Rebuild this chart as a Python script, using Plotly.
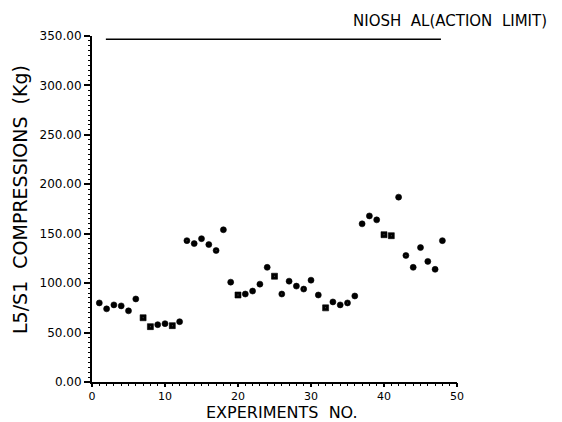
import plotly.graph_objects as go

experiments = list(range(1, 49))
compression_kg = [80, 74, 78, 77, 72, 84, 65, 56, 58, 59, 57, 61,
                  143, 140, 145, 139, 133, 154,
                  101, 88, 89, 92, 99, 116, 107, 89, 102, 97, 94, 103,
                  88, 75, 81, 78, 80, 87,
                  160, 168, 164, 149, 148, 187, 128, 116, 136, 122, 114, 143]
symbols = ["circle", "circle", "circle", "circle", "circle", "circle", "square-dot", "square-dot",
           "circle", "circle", "square-dot", "circle",
           "circle-dot", "circle", "circle", "circle", "circle-dot", "circle",
           "circle", "square-dot", "circle", "circle", "circle", "circle", "square-dot", "circle-dot",
           "circle", "circle", "circle-dot", "circle",
           "circle", "square-dot", "circle", "circle", "circle-dot", "circle",
           "circle", "circle", "circle", "square-dot", "square-dot", "circle", "circle-dot", "circle",
           "circle", "circle", "circle", "circle"]
niosh_x = [1.9, 47.8]
niosh_al = [346.6, 346.6]
x_range = [0, 50]
y_range = [0, 350]

font = "DejaVu Sans"
W, H = 554, 414
L, R, T, B = 84, 105, 28, 40
PW, PH = W - L - R, H - T - B

fig = go.Figure()
# invisible trace to activate the minor-tick axes
fig.add_trace(go.Scatter(x=x_range, y=y_range, xaxis="x2", yaxis="y2", mode="markers",
                         marker=dict(opacity=0), hoverinfo="skip", showlegend=False))
fig.add_trace(go.Scatter(x=niosh_x, y=niosh_al, mode="lines",
                         line=dict(color="black", width=1.5), showlegend=False))
fig.add_trace(go.Scatter(x=experiments, y=compression_kg, mode="markers",
                         marker=dict(color="black", size=6, symbol=symbols,
                                     line=dict(color="black", width=0.6)),
                         showlegend=False))

axis_common = dict(ticks="outside", tickwidth=1.5, tickcolor="black",
                   showline=True, linecolor="black", linewidth=2, showgrid=False,
                   zeroline=False)
minor_common = dict(ticks="outside", ticklen=3, tickwidth=1, tickcolor="black",
                    showline=False, showgrid=False, zeroline=False, showticklabels=False)
fig.update_layout(
    width=W, height=H,
    margin=dict(l=L, r=R, t=T, b=B, autoexpand=False),
    paper_bgcolor="white", plot_bgcolor="white",
    font=dict(family=font, color="black"),
    xaxis=dict(range=x_range, tick0=0, dtick=10, ticklen=3,
               tickfont=dict(size=11, family=font, color="black"), **axis_common),
    yaxis=dict(range=y_range, tick0=0, dtick=50, tickformat=".2f", ticklen=6,
               tickfont=dict(size=12, family=font, color="black"), **axis_common),
    xaxis2=dict(range=x_range, tick0=0, dtick=1, overlaying="x", side="bottom",
                anchor="y", **minor_common),
    yaxis2=dict(range=y_range, tick0=0, dtick=5, overlaying="y", side="left",
                anchor="x", **minor_common),
    annotations=[
        dict(text="EXPERIMENTS  NO.", x=(274 - L) / PW, y=-30.5 / PH, xref="paper", yref="paper",
             xanchor="center", yanchor="middle", showarrow=False,
             font=dict(size=16, family=font)),
        dict(text="L5/S1  COMPRESSIONS  (Kg)", x=-(L - 12) / PW, y=(374 - 192) / PH,
             xref="paper", yref="paper", xanchor="center", yanchor="middle",
             showarrow=False, textangle=-90, font=dict(size=19, family=font)),
        dict(text="NIOSH  AL(ACTION  LIMIT)", x=(442 - L) / PW, y=1 + (T - 13) / PH,
             xref="paper", yref="paper", xanchor="center", yanchor="middle",
             showarrow=False, font=dict(size=15, family=font)),
    ],
)
fig.write_html("out.html")
